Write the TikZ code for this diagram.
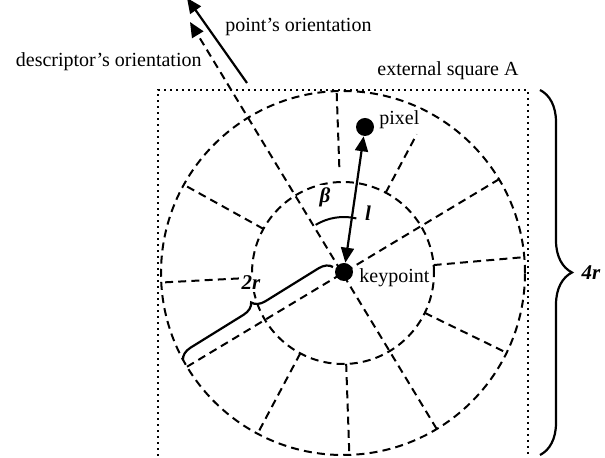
\documentclass[tikz,border=0pt]{standalone}
\usepackage{fontspec}
\setmainfont{Liberation Serif}
\usetikzlibrary{arrows.meta, calc, decorations.pathreplacing}
\tikzset{
  sector/.style={dash pattern=on 4pt off 2.6pt, line width=1pt},
  dot/.style={circle, fill=black, inner sep=0pt, minimum size=9pt},
  arrow/.style={-{Triangle[length=7.5pt,width=6.5pt]}, line width=1.1pt},
  dblarrow/.style={{Triangle[length=7.5pt,width=6.5pt]}-{Triangle[length=7.5pt,width=6.5pt]}, line width=1.1pt},
  lbl/.style={font=\fontsize{10}{12}\selectfont, inner sep=1pt},
  sym/.style={font=\fontsize{10.5}{12}\selectfont\bfseries\itshape, inner sep=1pt},
  bracefig/.style={decorate, decoration={brace, amplitude=#1}, line width=1.1pt}
}

\begin{document}
\begin{tikzpicture}[x=0.5pt, y=0.5pt]
  \useasboundingbox (0,0) rectangle (605,458);
  \clip (0,0) rectangle (605,458);
  \draw[dotted, line width=1pt] (158,-4) -- (158,368) -- (528,368) -- (528,-4);
  \coordinate (c) at (343,185);
  \begin{scope}[shift={(c)}]
    \draw[sector] (0,0) circle[radius=182];
    \draw[sector] (0,0) circle[radius=91];
    \foreach \a/\ri/\ro in {5/91/182, 62/91/157, 92/106/182, 151/91/182,
                            183/91/182, 242/91/182, 272/91/182, 334/91/182}
      \draw[sector] (\a:\ri) -- (\a:\ro);
    \draw[sector] (211:182) -- (31:182);
  \end{scope}
  \coordinate (dtip) at (190,436);
  \draw[arrow, sector] ($(c)+(301:182)$) -- (dtip);
  \coordinate (ps) at (247,375);
  \coordinate (pt) at (187,460);
  \draw[arrow] (ps) -- (pt);
  \node[dot] (kp) at (344,186) {};
  \node[dot] (px) at (365,331) {};
  \draw[dblarrow] (kp) -- (px);
  \draw[line width=1pt] ($(kp)+(121:55)$) arc[start angle=121, end angle=77, radius=55];
  \draw[bracefig=6.5pt] (183,98) coordinate (b1) -- (333,191) coordinate (b2);
  \draw[bracefig=16pt] (540,368) coordinate (B1) -- (540,3) coordinate (B2);
  \node[lbl, anchor=base west] (kplbl) at (357,175) {keypoint};
  \node[lbl, anchor=base west, fill=white] (pxlbl) at (377,333) {pixel};
  \node[lbl, anchor=base west] (ext) at (375,382) {external square A};
  \node[lbl, anchor=base west] (polbl) at (223,426) {point's orientation};
  \node[lbl, anchor=base east] (dolbl) at (204,391) {descriptor's orientation};
  \node[sym, fill=white] (beta) at (325,261) {β};
  \node[sym] (llbl) at (368,245) {l};
  \node[sym, fill=white] (twor) at (251,175) {2r};
  \node[sym] (fourr) at (591,185) {4r};
\end{tikzpicture}
\end{document}
